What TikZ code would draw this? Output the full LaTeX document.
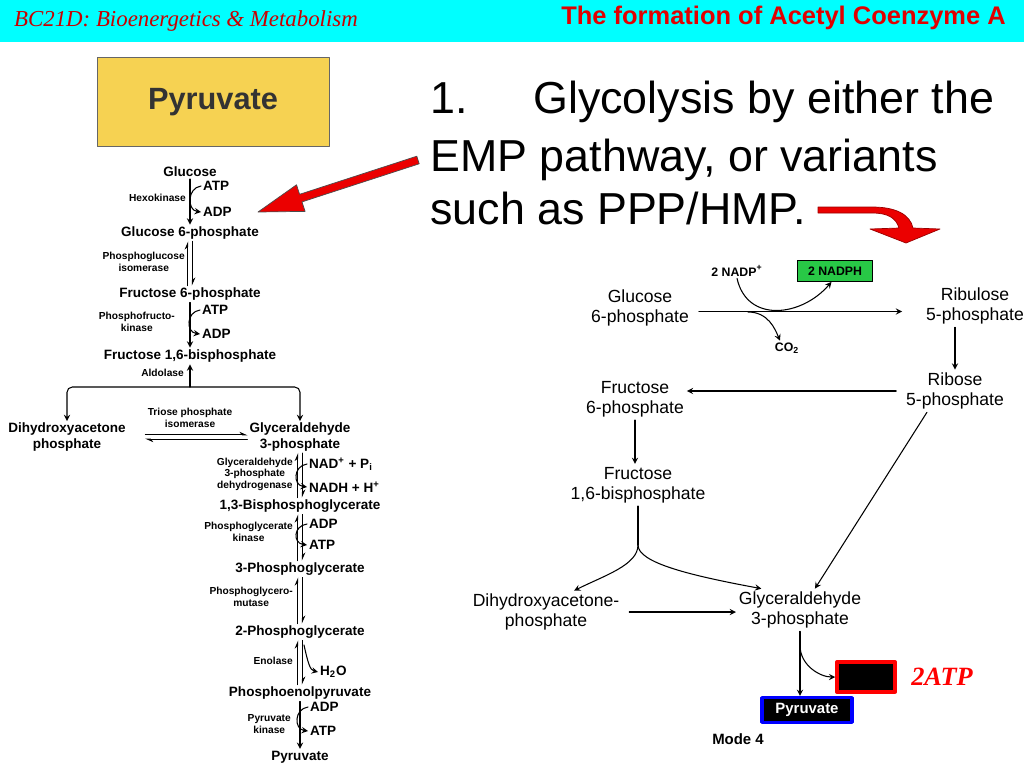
\documentclass[tikz,border=0pt]{standalone}
\usepackage{fontspec}
\setmainfont{Liberation Sans}
\newfontfamily\headfont{Liberation Serif}
\usetikzlibrary{arrows.meta}
\definecolor{headcyan}{RGB}{0,255,255}
\definecolor{headred}{RGB}{200,0,0}
\definecolor{titlered}{RGB}{225,0,0}
\definecolor{boxyellow}{RGB}{246,210,82}
\definecolor{nadphgreen}{RGB}{40,200,70}
\definecolor{arrowred}{RGB}{235,0,0}
\tikzset{
  met/.style={font=\bfseries\fontsize{7.7}{8.6}\selectfont, align=center, inner sep=1pt},
  enz/.style={font=\bfseries\fontsize{5.8}{6.6}\selectfont, align=center, inner sep=0.5pt},
  metR/.style={font=\fontsize{10}{11.6}\selectfont, align=center, inner sep=1.5pt},
  small/.style={font=\bfseries\fontsize{7}{8}\selectfont, inner sep=1pt},
  rxn/.style={->, line width=0.6pt},
  eq/.style={-{Stealth[harpoon, length=4pt, width=3.5pt]}, line width=0.5pt},
}
\begin{document}
\begin{tikzpicture}[x=0.02cm, y=-0.02cm, >=stealth, line join=round, line cap=round]
\useasboundingbox (0,0) rectangle (1024,768);
% header
\fill[headcyan] (0,0) rectangle (1024,42);
\node[anchor=west, text=headred, font=\headfont\itshape\fontsize{13}{15}\selectfont] (course) at (8,21) {BC21D: Bioenergetics \& Metabolism};
\node[anchor=east, text=titlered, font=\bfseries\fontsize{14.5}{16}\selectfont] (title) at (1012,18) {The formation of Acetyl Coenzyme A};
\node[draw=black!60, fill=boxyellow, minimum width=132pt, minimum height=51pt, text=black!80, font=\bfseries\fontsize{17.5}{20}\selectfont] (pyrbox) at (213,102) {Pyruvate};
% text
\node[anchor=base west, inner sep=0, font=\fontsize{25.5}{30}\selectfont] (num) at (430,113) {1.};
\node[anchor=base west, inner sep=0, font=\fontsize{25.5}{30}\selectfont] (line1) at (533,113) {Glycolysis by either the};
\node[anchor=base west, inner sep=0, font=\fontsize{25.5}{30}\selectfont] (line2) at (430,171) {EMP pathway, or variants};
\node[anchor=base west, inner sep=0, font=\fontsize{25.5}{30}\selectfont] (line3) at (430,224) {such as PPP/HMP.};
% red arrows
\filldraw[fill=arrowred, draw=black!70, line width=0.4pt] (419.2,163.8) -- (302.0,201.9) -- (305.1,211.4) -- (258,212) -- (296.5,184.8) -- (299.6,194.3) -- (416.8,156.2) -- cycle;
\filldraw[fill=arrowred, draw=red!60!black, line width=0.4pt] (818,207) -- (872,207) .. controls (895,207) and (910,214) .. (913,228) -- (940,229) -- (906,243) -- (870,229) -- (899,228) .. controls (896,218) and (888,213) .. (872,213) -- (818,213) -- cycle;

% glycolysis (EMP)
\node[met] (glc) at (190,172) {Glucose};
\node[met, anchor=west] (atp1) at (201,186) {ATP};
\node[met, anchor=west] (adp1) at (201,212) {ADP};
\node[enz, anchor=east] (hk) at (187,198) {Hexokinase};
\node[met] (g6p) at (190,233) {Glucose 6-phosphate};
\node[enz, anchor=east] (pgi) at (186,262) {Phosphoglucose\\isomerase};
\node[met] (f6p) at (190,294) {Fructose 6-phosphate};
\node[met, anchor=west] (atp2) at (200,310) {ATP};
\node[met, anchor=west] (adp2) at (200,334) {ADP};
\node[enz, anchor=east] (pfk) at (176,322) {Phosphofructo-\\kinase};
\node[met] (fbp) at (190,356) {Fructose 1,6-bisphosphate};
\node[enz, anchor=east] (ald) at (185,373) {Aldolase};
\coordinate (split) at (190,387);
\node[met] (dhap) at (67,437) {Dihydroxyacetone\\phosphate};
\node[enz] (tpi) at (190,418) {Triose phosphate\\isomerase};
\node[met] (gap) at (300,437) {Glyceraldehyde\\3-phosphate};
\node[enz, anchor=east] (gapdh) at (294,474) {Glyceraldehyde\\3-phosphate\\dehydrogenase};
\node[met, anchor=west] (nad) at (307,464) {NAD\textsuperscript{+} + P\textsubscript{i}};
\node[met, anchor=west] (nadh) at (307,487) {NADH + H\textsuperscript{+}};
\node[met] (bpg) at (300,506) {1,3-Bisphosphoglycerate};
\node[enz, anchor=east] (pgk) at (294,532) {Phosphoglycerate\\kinase};
\node[met, anchor=west] (adp3) at (307,524) {ADP};
\node[met, anchor=west] (atp3) at (307,545) {ATP};
\node[met] (pg3) at (300,569) {3-Phosphoglycerate};
\node[enz, anchor=east] (pgm) at (294,597) {Phosphoglycero-\\mutase};
\node[met] (pg2) at (300,632) {2-Phosphoglycerate};
\node[enz, anchor=east] (eno) at (294,661) {Enolase};
\node[met, anchor=west] (h2o) at (318,672) {H\textsubscript{2}O};
\node[met] (pep) at (300,693) {Phosphoenolpyruvate};
\node[enz, anchor=east] (pk) at (292,724) {Pyruvate\\kinase};
\node[met, anchor=west] (adp4) at (308,707) {ADP};
\node[met, anchor=west] (atp4) at (308,731) {ATP};
\node[met] (pyr) at (300,757) {Pyruvate};
\coordinate (enofrom) at (304,645);

\draw[rxn] (glc) -- (g6p);
\draw[rxn] (atp1.west) .. controls +(-14,2) and +(-14,-2) .. (adp1.west);
\draw[eq] ([xshift=-1.3pt]f6p.north) -- ([xshift=-1.3pt]g6p.south);
\draw[eq] ([xshift=1.3pt]g6p.south) -- ([xshift=1.3pt]f6p.north);
\draw[rxn] (f6p) -- (fbp);
\draw[rxn] (atp2.west) .. controls +(-14,2) and +(-14,-2) .. (adp2.west);
\draw[rxn] (split) -- (fbp.south);
\draw[<->, line width=0.6pt, rounded corners=3pt] (dhap.north) |- (split) -| (gap.north);
\draw[eq] ([yshift=1.2pt, xshift=10pt]dhap.east) -- ([yshift=1.2pt]gap.west);
\draw[eq] ([yshift=-1.2pt]gap.west) -- ([yshift=-1.2pt, xshift=10pt]dhap.east);
\draw[eq] ([xshift=-1.3pt]bpg.north) -- ([xshift=-1.3pt]gap.south);
\draw[eq] ([xshift=1.3pt]gap.south) -- ([xshift=1.3pt]bpg.north);
\draw[rxn] (nad.west) .. controls +(-14,2) and +(-14,-2) .. (nadh.west);
\draw[eq] ([xshift=-1.3pt]pg3.north) -- ([xshift=-1.3pt]bpg.south);
\draw[eq] ([xshift=1.3pt]bpg.south) -- ([xshift=1.3pt]pg3.north);
\draw[rxn] (adp3.west) .. controls +(-14,2) and +(-14,-2) .. (atp3.west);
\draw[eq] ([xshift=-1.3pt]pg2.north) -- ([xshift=-1.3pt]pg3.south);
\draw[eq] ([xshift=1.3pt]pg3.south) -- ([xshift=1.3pt]pg2.north);
\draw[eq] ([xshift=-1.3pt]pep.north) -- ([xshift=-1.3pt]pg2.south);
\draw[eq] ([xshift=1.3pt]pg2.south) -- ([xshift=1.3pt]pep.north);
\draw[rxn] (enofrom) .. controls +(4,18) and +(-8,-2) .. (h2o.west);
\draw[rxn] (pep) -- (pyr);
\draw[rxn] (adp4.west) .. controls +(-14,2) and +(-14,-2) .. (atp4.west);

% pentose phosphate pathway, mode 4
\node[metR] (g6pR) at (640,308) {Glucose\\6-phosphate};
\node[metR] (ru5p) at (975,306) {Ribulose\\5-phosphate};
\node[metR] (r5p) at (955,391) {Ribose\\5-phosphate};
\node[metR] (f6pR) at (635,399) {Fructose\\6-phosphate};
\node[metR] (fbpR) at (638,485) {Fructose\\1,6-bisphosphate};
\node[metR] (dhapR) at (546,612) {Dihydroxyacetone-\\phosphate};
\node[metR] (gapR) at (800,610) {Glyceraldehyde\\3-phosphate};
\node[small] (nadp) at (737,271) {2 NADP\textsuperscript{+}};
\node[small, draw=black, fill=nadphgreen, minimum width=43pt, minimum height=12pt] (nadph) at (835,271) {2 NADPH};
\node[small] (co2) at (787,348) {CO\textsubscript{2}};
\node[draw=red, line width=2pt, fill=black, minimum width=33pt, minimum height=17pt] (atpbox) at (866,677) {};
\node[text=red, font=\headfont\bfseries\itshape\fontsize{15}{16}\selectfont] (twoatp) at (942,677) {2ATP};
\node[draw=blue, line width=2pt, fill=black, text=white, inner sep=1pt, minimum width=51pt, minimum height=14pt, font=\bfseries\fontsize{8.5}{10}\selectfont] (pyrR) at (807,710) {Pyruvate};
\node[font=\bfseries\fontsize{8.5}{10}\selectfont] (mode) at (738,739) {Mode 4};
\coordinate (co2from) at (748,312);
\coordinate (fork) at (638,545);

\draw[rxn, shorten <=4pt, shorten >=12pt] ([yshift=-2pt]g6pR.east) -- ([yshift=-2pt]g6pR.east -| ru5p.west);
\draw[rxn] (nadp.south) .. controls +(10,45) and +(-30,35) .. ([xshift=-2pt]nadph.south);
\draw[rxn] (co2from) .. controls +(20,0) and +(-5,-12) .. ([xshift=-4pt]co2.north);
\draw[rxn] (ru5p.south -| r5p) -- (r5p.north);
\draw[rxn, shorten <=4pt] (r5p.west) -- (r5p.west -| f6pR.east);
\draw[rxn] (f6pR.south) -- (f6pR.south |- fbpR.north);
\draw[line width=0.6pt] (fbpR.south) -- (fork);
\draw[rxn] (fork) .. controls +(0,20) and +(30,-15) .. ([xshift=16pt]dhapR.north);
\draw[rxn] (fork) .. controls +(0,18) and +(-70,-13) .. ([xshift=-22pt]gapR.north);
\draw[rxn] ([xshift=-16pt]r5p.south) -- ([xshift=8.5pt]gapR.north);
\draw[rxn, shorten <=4pt] (dhapR.east) -- (dhapR.east -| gapR.west);
\draw[rxn] (gapR.south) -- (gapR.south |- pyrR.north);
\draw[rxn] ([yshift=-8pt]gapR.south) .. controls +(0,20) and +(-15,0) .. (atpbox.west);
\end{tikzpicture}
\end{document}
